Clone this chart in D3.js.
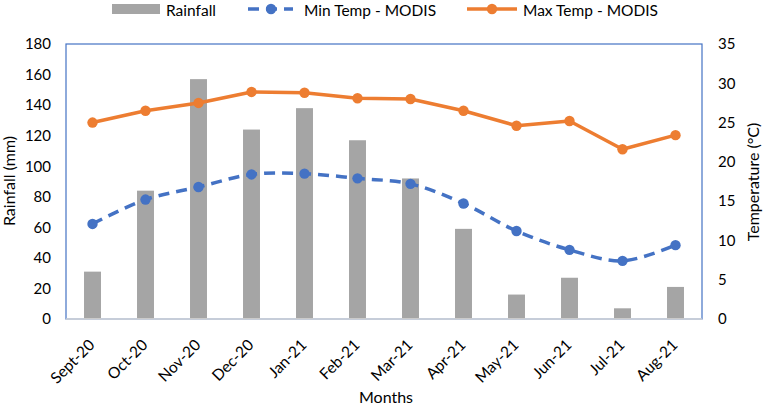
<!DOCTYPE html>
<html>
<head>
<meta charset="utf-8">
<script src="https://cdn.jsdelivr.net/npm/d3@7"></script>
<style>
  html, body { margin: 0; padding: 0; background: #fff; }
  svg { display: block; }
  text { font-family: Lato, "Open Sans", sans-serif; fill: #000; }
</style>
</head>
<body>
<svg id="chart" width="763" height="408"></svg>
<script>
const months = ["Sept-20","Oct-20","Nov-20","Dec-20","Jan-21","Feb-21","Mar-21","Apr-21","May-21","Jun-21","Jul-21","Aug-21"];
const rainfall = [31, 84, 157, 124, 138, 117, 92, 59, 16, 27, 7, 21];
const minTemp = [12.1, 15.2, 16.8, 18.4, 18.5, 17.9, 17.2, 14.7, 11.2, 8.8, 7.4, 9.4];
const maxTemp = [25.0, 26.5, 27.5, 28.9, 28.8, 28.1, 28.0, 26.5, 24.6, 25.2, 21.6, 23.4];
const rainTicks = [0, 20, 40, 60, 80, 100, 120, 140, 160, 180];
const tempTicks = [0, 5, 10, 15, 20, 25, 30, 35];

const svg = d3.select("#chart");
const L = 66, R = 702, T = 44, B = 319;

const x = d3.scaleBand().domain(months).range([L, R]).paddingInner(0.68).paddingOuter(0.34);
const cx = d => x(d) + x.bandwidth() / 2;
const yL = d3.scaleLinear().domain([0, 180]).range([B, T]);
const yR = d3.scaleLinear().domain([0, 35]).range([B, T]);

// plot area border
svg.append("rect").attr("x", L).attr("y", T).attr("width", R - L).attr("height", B - T)
  .attr("fill", "none").attr("stroke", "#4472C4").attr("stroke-width", 1.2);

// bars
svg.append("g").selectAll("rect").data(months).join("rect")
  .attr("x", d => x(d)).attr("width", x.bandwidth())
  .attr("y", (d, i) => yL(rainfall[i])).attr("height", (d, i) => B - yL(rainfall[i]))
  .attr("fill", "#A5A5A5");

// x axis line
svg.append("line").attr("x1", L).attr("x2", R).attr("y1", B).attr("y2", B)
  .attr("stroke", "#D9D9D9").attr("stroke-width", 1.5);

// left axis
const gl = svg.append("g").attr("transform", `translate(${L},0)`)
  .call(d3.axisLeft(yL).tickValues(rainTicks).tickSize(0).tickPadding(15));
gl.select(".domain").remove();
gl.selectAll("text").style("font-size", "15px").style("font-family", "Lato, sans-serif").attr("fill", "#000");

// right axis
const gr = svg.append("g").attr("transform", `translate(${R},0)`)
  .call(d3.axisRight(yR).tickValues(tempTicks).tickSize(0).tickPadding(16));
gr.select(".domain").remove();
gr.selectAll("text").style("font-size", "15px").style("font-family", "Lato, sans-serif").attr("fill", "#000");

// x labels
const gx = svg.append("g").attr("transform", `translate(0,${B})`)
  .call(d3.axisBottom(x).tickSize(0).tickPadding(0));
gx.select(".domain").remove();
gx.selectAll(".tick text")
  .style("font-size", "15.5px").style("font-family", "Lato, sans-serif").attr("fill", "#000")
  .attr("text-anchor", "end").attr("dy", null).attr("y", null)
  .attr("transform", "translate(3,27) rotate(-45)");

// lines
const lineMax = d3.line().x((d, i) => cx(months[i])).y(d => yR(d));
const lineMin = d3.line().x((d, i) => cx(months[i])).y(d => yR(d)).curve(d3.curveCatmullRom.alpha(0.5));
svg.append("path").datum(maxTemp).attr("d", lineMax)
  .attr("fill", "none").attr("stroke", "#ED7D31").attr("stroke-width", 3.5).attr("stroke-linejoin", "round");
svg.append("g").selectAll("circle").data(maxTemp).join("circle")
  .attr("cx", (d, i) => cx(months[i])).attr("cy", d => yR(d)).attr("r", 5.2).attr("fill", "#ED7D31");

svg.append("path").datum(minTemp).attr("d", lineMin)
  .attr("fill", "none").attr("stroke", "#4472C4").attr("stroke-width", 3.5)
  .attr("stroke-dasharray", "11,7").attr("stroke-linejoin", "round");
svg.append("g").selectAll("circle").data(minTemp).join("circle")
  .attr("cx", (d, i) => cx(months[i])).attr("cy", d => yR(d)).attr("r", 5.2).attr("fill", "#4472C4");

// axis titles
svg.append("text").attr("transform", "translate(15,181) rotate(-90)")
  .attr("text-anchor", "middle").style("font-size", "16px").text("Rainfall (mm)");
svg.append("text").attr("transform", "translate(759,182) rotate(-90)")
  .attr("text-anchor", "middle").style("font-size", "16px").text("Temperature (°C)");
svg.append("text").attr("x", 386).attr("y", 403)
  .attr("text-anchor", "middle").style("font-size", "16px").text("Months");

// legend
const lg = svg.append("g");
const ly = 9;
lg.append("rect").attr("x", 112).attr("y", ly - 5).attr("width", 48).attr("height", 10).attr("fill", "#A5A5A5");
lg.append("text").attr("x", 166).attr("y", 16).style("font-size", "15.5px").text("Rainfall");
lg.append("line").attr("x1", 248).attr("x2", 293).attr("y1", ly).attr("y2", ly)
  .attr("stroke", "#4472C4").attr("stroke-width", 3.5).attr("stroke-dasharray", "11,7");
lg.append("circle").attr("cx", 271).attr("cy", ly).attr("r", 5.2).attr("fill", "#4472C4");
lg.append("text").attr("x", 304).attr("y", 16).style("font-size", "15.5px").text("Min Temp - MODIS");
lg.append("line").attr("x1", 467).attr("x2", 517).attr("y1", ly).attr("y2", ly)
  .attr("stroke", "#ED7D31").attr("stroke-width", 3.5);
lg.append("circle").attr("cx", 492).attr("cy", ly).attr("r", 5.2).attr("fill", "#ED7D31");
lg.append("text").attr("x", 523).attr("y", 16).style("font-size", "15.5px").text("Max Temp - MODIS");
</script>
</body>
</html>
